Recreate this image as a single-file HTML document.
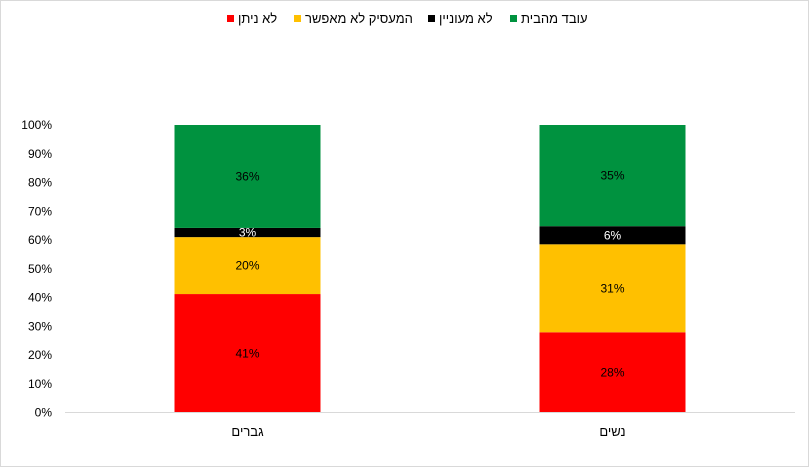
<!DOCTYPE html>
<html><head><meta charset="utf-8"><style>
html,body{margin:0;padding:0;background:#fff}
svg{display:block;font-family:"Liberation Sans","Noto Sans CJK JP",sans-serif}
</style></head><body>
<svg id="chart" width="809" height="467" viewBox="0 0 809 467">
<rect x="0.5" y="0.5" width="808" height="466" fill="#fff" stroke="#d9d9d9"/>
<g id="legend"></g>
<g id="yaxis"></g>
<g id="bars"></g>
<g id="xaxis"></g>
</svg>
<script>
const categories = ["גברים", "נשים"];
const seriesNames = ["לא ניתן", "המעסיק לא מאפשר", "לא מעוניין", "עובד מהבית"];
const seriesColors = ["#ff0000", "#ffc000", "#000000", "#00923f"];
const labelColors = ["#000", "#000", "#fff", "#000"];
const notPossible = [41.2, 27.9];
const employerDisallows = [19.8, 30.6];
const notInterested = [3.2, 6.3];
const worksFromHome = [35.8, 35.2];
const series = [notPossible, employerDisallows, notInterested, worksFromHome];
const yTicks = [0,10,20,30,40,50,60,70,80,90,100];

const NS = "http://www.w3.org/2000/svg";
const x0 = 65, x1 = 795, yBase = 412.5, yTop = 125;
const y = v => yBase - (yBase - yTop) * v / 100;
const band = (x1 - x0) / categories.length;
const barW = 146;
const cx = i => x0 + band * (i + 0.5);
function mk(tag, attrs, parent) {
  const e = document.createElementNS(NS, tag);
  for (const k in attrs) e.setAttribute(k, attrs[k]);
  parent.appendChild(e);
  return e;
}
const yax = document.getElementById('yaxis');
yTicks.forEach(t => {
  const tx = mk('text', {x: 52, y: y(t) + 4, 'text-anchor': 'end', 'font-size': 12, fill: '#000'}, yax);
  tx.textContent = t + '%';
  
  
});
const bars = document.getElementById('bars');
categories.forEach((c, i) => {
  let acc = 0;
  series.forEach((s, k) => {
    const v = s[i];
    const r = mk('rect', {x: cx(i) - barW / 2, y: y(acc + v), width: barW, height: y(acc) - y(acc + v), fill: seriesColors[k]}, bars);
    
    
    const t = mk('text', {x: cx(i), y: (y(acc) + y(acc + v)) / 2 + 4, 'text-anchor': 'middle', 'font-size': 12, fill: labelColors[k]}, bars);
    t.textContent = Math.round(v) + '%';
    
    
    acc += v;
  });
});
const xax = document.getElementById('xaxis');
const ln = mk('line', {x1: x0, x2: x1, y1: yBase, y2: yBase, stroke: '#d9d9d9', 'stroke-width': 1}, xax);


categories.forEach((c, i) => {
  const t = mk('text', {x: cx(i), y: 436, 'text-anchor': 'middle', 'font-size': 13, fill: '#000'}, xax);
  t.textContent = c;
  
  
});
const leg = document.getElementById('legend');
const legX = [227, 294, 428, 510];
seriesNames.forEach((n, k) => {
  const g = mk('g', {}, leg);
  
  
  mk('rect', {x: legX[k], y: 15, width: 7, height: 7, fill: seriesColors[k]}, g);
  const t = mk('text', {x: legX[k] + 11, y: 23, 'font-size': 13, fill: '#000', direction: 'rtl', 'unicode-bidi': 'embed', 'text-anchor': 'end'}, g);
  t.textContent = n;
});
</script>
</body></html>
